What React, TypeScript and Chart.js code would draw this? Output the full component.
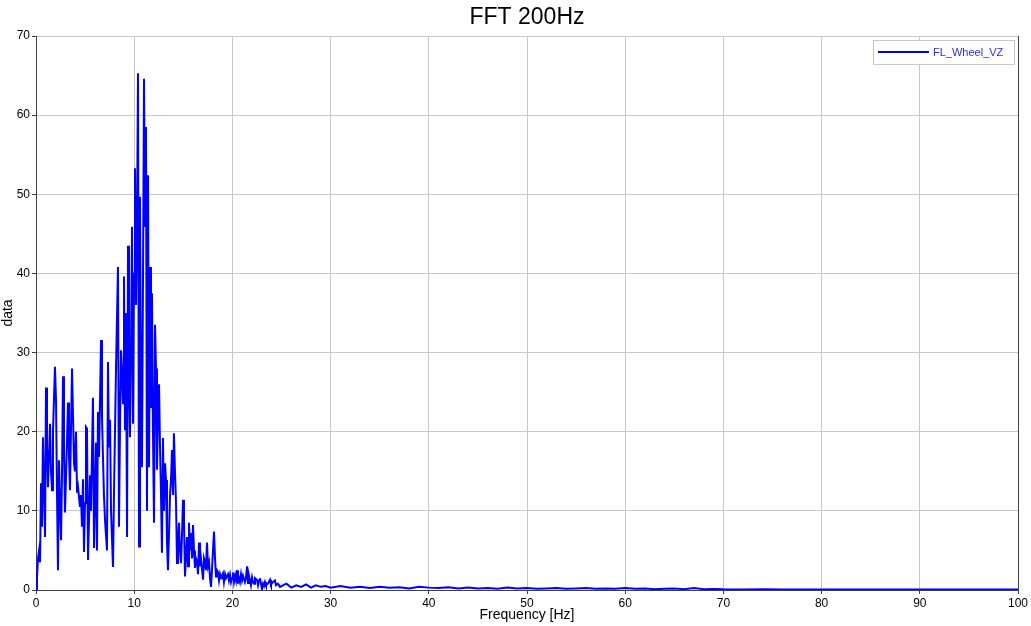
import React, { useEffect, useRef } from "react";
import { Chart, registerables } from "chart.js";

Chart.register(...registerables);

const chartTitle = "FFT 200Hz";
const seriesName = "FL_Wheel_VZ";
const xAxisTitle = "Frequency [Hz]";
const yAxisTitle = "data";

// Main band 0-25 Hz
const lowHz = [
  0.0, 0.1, 0.2, 0.31, 0.41, 0.51, 0.61, 0.71, 0.81, 0.92, 1.02, 1.12, 1.22, 1.32, 1.43, 1.53, 1.63, 1.73, 1.93, 2.04,
  2.14, 2.24, 2.34, 2.44, 2.55, 2.65, 2.75, 2.85, 2.95, 3.05, 3.26, 3.36, 3.46, 3.56, 3.67, 3.77, 3.87, 3.97, 4.07, 4.18,
  4.28, 4.48, 4.58, 4.68, 4.79, 4.89, 4.99, 5.09, 5.19, 5.3, 5.4, 5.5, 5.6, 5.8, 5.91, 6.11, 6.21, 6.31, 6.42, 6.62,
  6.72, 6.82, 6.92, 7.03, 7.23, 7.33, 7.43, 7.54, 7.64, 7.84, 7.94, 8.15, 8.35, 8.45, 8.55, 8.66, 8.76, 8.86, 8.96, 9.06,
  9.16, 9.27, 9.37, 9.47, 9.57, 9.67, 9.78, 9.88, 9.98, 10.08, 10.18, 10.29, 10.39, 10.49, 10.59, 10.69, 10.79, 10.9, 11.0, 11.1,
  11.2, 11.3, 11.41, 11.51, 11.61, 11.71, 11.81, 11.91, 12.02, 12.12, 12.22, 12.32, 12.42, 12.53, 12.63, 12.73, 12.83, 12.93, 13.03, 13.14,
  13.24, 13.34, 13.44, 13.54, 13.65, 13.75, 13.85, 13.95, 14.05, 14.15, 14.26, 14.36, 14.46, 14.56, 14.66, 14.77, 14.87, 14.97, 15.07, 15.17,
  15.27, 15.38, 15.48, 15.58, 15.68, 15.78, 15.89, 15.99, 16.09, 16.19, 16.29, 16.4, 16.5, 16.6, 16.7, 16.8, 17.01, 17.11, 17.21, 17.31,
  17.41, 17.52, 17.62, 17.72, 17.82, 17.92, 18.02, 18.13, 18.23, 18.33, 18.43, 18.53, 18.64, 18.74, 18.84, 18.94, 19.04, 19.14, 19.25, 19.35,
  19.55, 19.65, 19.76, 19.86, 19.96, 20.06, 20.16, 20.27, 20.37, 20.47, 20.57, 20.67, 20.77, 20.88, 20.98, 21.08, 21.28, 21.38, 21.49, 21.59,
  21.69, 21.79, 21.89, 22.0, 22.1, 22.2, 22.3, 22.5, 22.61, 22.71, 22.81, 22.91, 23.01, 23.12, 23.22, 23.32, 23.42, 23.62, 23.83, 23.93,
  24.13, 24.34, 24.44, 24.64, 24.85,
];
const lowAmp = [
  0, 1.5, 4, 5, 3.5, 13.5, 8, 19.3, 13, 6.7, 25.6, 18, 13, 17, 21, 15, 12.6, 20, 28.2, 24,
  12, 2.5, 16.4, 11, 6.3, 15, 27, 18, 9.8, 14, 23.7, 17, 12.6, 20, 28, 22, 16, 15, 20, 12.3,
  13, 10.5, 12, 8, 14, 4.8, 11, 20.6, 20.4, 3.8, 9, 14.5, 10, 24.3, 5.3, 18.6, 5, 22.5, 16.8, 31.6,
  22, 16.8, 12, 8.8, 5, 28.8, 18, 21.5, 10, 2.9, 12, 28.2, 40.8, 8, 20, 30.3, 28, 23.6, 39.6, 20.2,
  35, 6.7, 43.5, 27, 19.3, 30, 45.9, 21, 40, 53.3, 36, 47, 65.3, 5.5, 49.7, 25, 15.5, 40, 64.6, 46,
  58.5, 10, 52.4, 15.5, 40.8, 23, 37.5, 20, 8.5, 33.5, 28, 15.2, 22, 26, 18, 12, 4.7, 19.2, 10, 16,
  13.9, 6, 2.5, 7, 12, 14, 17.7, 12, 19.8, 15, 11, 3.4, 6, 8.5, 5, 3.4, 7, 11.4, 9, 1.7,
  4, 6.7, 3, 8.5, 5, 7.2, 4, 8.2, 5, 2.8, 4, 3.6, 2, 6, 3, 4, 1.3, 4, 3.5, 2.5,
  6, 3, 3.5, 1.5, 0.4, 2.5, 5, 7.4, 4, 1.7, 2.5, 2.3, 1.2, 2, 1.5, 1.8, 2.1, 1, 2, 1.5,
  2, 1.2, 1.9, 1, 1.5, 2.2, 1, 1.8, 1.2, 2.5, 0.8, 1.5, 1, 2, 1.2, 1.8, 1, 1.5, 3, 0.9,
  1.8, 1.2, 0.6, 1.6, 1, 0.8, 1.5, 1.3, 0.6, 1.2, 1.5, 0.8, 0.1, 0.8, 0.5, 1, 0.6, 0.8, 1.3, 0.7,
  1, 1.2, 0.6, 0.8, 0.4,
];

// Tail 25-100 Hz
const highHz = [
  25.0, 25.5, 26.0, 26.5, 27.0, 27.5, 28.0, 28.5, 29.0, 29.5, 30, 31, 32, 33, 34, 35, 36, 37, 38, 39,
  40, 41, 42, 43, 44, 45, 46, 47, 48, 49, 50, 51, 52, 53, 54, 55, 56, 57, 58, 59,
  60, 61, 62, 63, 64, 65, 66, 67, 68, 69, 70, 72, 74, 76, 78, 80, 82, 84, 86, 88,
  90, 92, 94, 96, 98, 100,
];
const highAmp = [
  0.5, 0.8, 0.3, 0.6, 0.4, 0.7, 0.3, 0.6, 0.4, 0.5, 0.3, 0.5, 0.3, 0.4, 0.25, 0.4, 0.3, 0.35, 0.2, 0.4,
  0.3, 0.25, 0.35, 0.2, 0.3, 0.2, 0.25, 0.15, 0.3, 0.2, 0.25, 0.15, 0.2, 0.25, 0.15, 0.2, 0.25, 0.15, 0.2, 0.15,
  0.25, 0.15, 0.2, 0.1, 0.15, 0.2, 0.1, 0.25, 0.1, 0.12, 0.08, 0.06, 0.08, 0.05, 0.07, 0.05, 0.06, 0.05, 0.06, 0.05,
  0.05, 0.06, 0.05, 0.05, 0.05, 0.05,
];

const xTicksMin = 0;
const xTicksMax = 100;
const xStep = 10;
const yTicksMin = 0;
const yTicksMax = 70;
const yStep = 10;

const FONT = "'Liberation Sans', Arial, sans-serif";

const frameAndLegend = {
  id: "frameAndLegend",
  afterDraw(chart: any) {
    const { ctx, chartArea } = chart;
    ctx.save();
    // title centred over the plot area
    ctx.fillStyle = "#000000";
    ctx.font = `23px ${FONT}`;
    ctx.textAlign = "center";
    ctx.textBaseline = "middle";
    ctx.fillText(chartTitle, (chartArea.left + chartArea.right) / 2, 18);
    // right border
    ctx.strokeStyle = "#404040";
    ctx.lineWidth = 1;
    ctx.beginPath();
    ctx.moveTo(chartArea.right + 0.5, chartArea.top);
    ctx.lineTo(chartArea.right + 0.5, chartArea.bottom);
    ctx.stroke();
    // legend box
    const bx = chartArea.right - 145;
    const by = chartArea.top + 4;
    const bw = 141;
    const bh = 24;
    ctx.fillStyle = "#ffffff";
    ctx.fillRect(bx, by, bw, bh);
    ctx.strokeStyle = "#c8c8c8";
    ctx.strokeRect(bx + 0.5, by + 0.5, bw, bh);
    ctx.strokeStyle = "#0000ff";
    ctx.lineWidth = 2;
    ctx.beginPath();
    ctx.moveTo(bx + 5, by + 12);
    ctx.lineTo(bx + 56, by + 12);
    ctx.stroke();
    ctx.fillStyle = "#2a2aff";
    ctx.font = `11px ${FONT}`;
    ctx.textBaseline = "middle";
    ctx.textAlign = "left";
    ctx.fillText(seriesName, bx + 60, by + 12.5);
    ctx.restore();
  },
};

export default function App() {
  const ref = useRef<HTMLCanvasElement | null>(null);
  useEffect(() => {
    if (!ref.current) return;
    const allHz = [...lowHz, ...highHz];
    const allAmp = [...lowAmp, ...highAmp];
    const points = allHz.map((x, i) => ({ x, y: allAmp[i] }));
    const chart = new Chart(ref.current, {
      type: "line",
      data: {
        datasets: [
          {
            label: seriesName,
            data: points,
            borderColor: "#0000ff",
            backgroundColor: "#0000ff",
            borderWidth: 2,
            pointRadius: 0,
            tension: 0,
            fill: false,
          },
        ],
      },
      options: {
        animation: false,
        responsive: false,
        maintainAspectRatio: false,
        layout: { padding: { top: 36, right: 13, bottom: 0, left: 0 } },
        plugins: {
          legend: { display: false },
          tooltip: { enabled: false },
          title: { display: false },
        },
        scales: {
          x: {
            type: "linear",
            min: xTicksMin,
            max: xTicksMax,
            ticks: {
              stepSize: xStep,
              color: "#000000",
              font: { family: FONT, size: 12 },
              padding: 2,
              maxRotation: 0,
            },
            grid: { color: "#c8c8c8", tickColor: "#404040", tickLength: 4, drawTicks: true },
            border: { color: "#404040", width: 1 },
            title: {
              display: true,
              text: xAxisTitle,
              color: "#000000",
              font: { family: FONT, size: 14 },
              padding: { top: 0, bottom: 2 },
            },
            afterFit(scale: any) {
              scale.height = 36;
            },
          },
          y: {
            type: "linear",
            min: yTicksMin,
            max: yTicksMax,
            ticks: {
              stepSize: yStep,
              color: "#000000",
              font: { family: FONT, size: 12 },
              padding: 2,
            },
            grid: { color: "#c8c8c8", tickColor: "#404040", tickLength: 4, drawTicks: true },
            border: { color: "#404040", width: 1 },
            title: {
              display: true,
              text: yAxisTitle,
              color: "#000000",
              font: { family: FONT, size: 14 },
              padding: { top: 0, bottom: 0 },
            },
            afterFit(scale: any) {
              scale.width = 36;
            },
          },
        },
      },
      plugins: [frameAndLegend],
    });
    return () => chart.destroy();
  }, []);
  return (
    <div style={{ position: "absolute", left: 0, top: 0, width: 1031, height: 626, background: "#ffffff" }}>
      <canvas ref={ref} width={1031} height={626} style={{ display: "block" }} />
    </div>
  );
}
